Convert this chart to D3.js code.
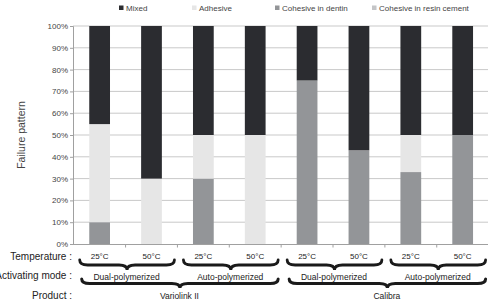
<!DOCTYPE html>
<html><head><meta charset="utf-8">
<script src="https://cdn.jsdelivr.net/npm/d3@7"></script>
<style>body{margin:0;background:#fff}svg{display:block;font-family:"Liberation Sans",Arial,sans-serif}</style>
</head><body><svg id="c" width="488" height="302"></svg>
<script>
const temperatures = ["25°C","50°C","25°C","50°C","25°C","50°C","25°C","50°C"];
const modes = ["Dual-polymerized","Auto-polymerized","Dual-polymerized","Auto-polymerized"];
const products = ["Variolink II","Calibra"];
const seriesNames = ["Cohesive in dentin","Cohesive in resin cement","Adhesive","Mixed"];
const dentin = [10,0,30,0,75,43,33,50];
const resin  = [0,0,0,0,0,0,0,0];
const adhesive = [45,30,20,50,0,0,17,0];
const mixed = [45,70,50,50,25,57,50,50];
const yTicks = [0,10,20,30,40,50,60,70,80,90,100];
const legendOrder = ["Mixed","Adhesive","Cohesive in dentin","Cohesive in resin cement"];
const colors = {"Mixed":"#2b2c30","Adhesive":"#e6e6e6","Cohesive in dentin":"#939598","Cohesive in resin cement":"#c4c5c7"};

const svg = d3.select("#c");
const x = d3.scaleBand().domain(d3.range(8)).range([73.7,488.6]).paddingInner(0.6).paddingOuter(0.3);
const y = d3.scaleLinear().domain([0,100]).range([244,26]);

// grid
svg.append("g").selectAll("line").data(yTicks.slice(1)).join("line")
  .attr("x1",73).attr("x2",488).attr("y1",d=>y(d)).attr("y2",d=>y(d))
  .attr("stroke","#c9c9c9").attr("stroke-width",1);

// bars
const table = d3.range(8).map(i=>({i,"Cohesive in dentin":dentin[i],"Cohesive in resin cement":resin[i],"Adhesive":adhesive[i],"Mixed":mixed[i]}));
const stack = d3.stack().keys(seriesNames)(table);
svg.append("g").selectAll("g").data(stack).join("g").attr("fill",d=>colors[d.key])
  .selectAll("rect").data(d=>d).join("rect")
  .attr("x",d=>x(d.data.i)).attr("width",x.bandwidth())
  .attr("y",d=>y(d[1])).attr("height",d=>y(d[0])-y(d[1]));

// y axis
const ya = svg.append("g").attr("transform","translate(73,0)")
  .call(d3.axisLeft(y).tickValues(yTicks).tickFormat(d=>d+"%").tickSize(3).tickPadding(2));
ya.selectAll("path,line").attr("stroke","#a0a0a0");
ya.selectAll("text").attr("fill","#444").style("font-size","8px").style("font-family","Liberation Sans, Arial");

// x axis line with ticks at band boundaries
const step = x.step();
const x0 = 73.7;
svg.append("line").attr("x1",73).attr("x2",488).attr("y1",244.5).attr("y2",244.5).attr("stroke","#a0a0a0");
svg.append("g").selectAll("line").data(d3.range(1,8)).join("line")
  .attr("x1",d=>x0+d*step).attr("x2",d=>x0+d*step).attr("y1",244.5).attr("y2",247.5).attr("stroke","#a0a0a0");

// y title
svg.append("text").attr("transform","translate(25,135) rotate(-90)").attr("text-anchor","middle")
  .attr("fill","#444").style("font-size","10.5px").text("Failure pattern");

// legend
const legX = [119,192,275,372];
const lg = svg.append("g").selectAll("g").data(legendOrder).join("g")
  .attr("transform",(d,i)=>`translate(${legX[i]},8)`);
lg.append("rect").attr("x",0).attr("y",-2.5).attr("width",4.5).attr("height",4.5).attr("fill",d=>colors[d]);
lg.append("text").attr("x",7).attr("y",3).attr("fill","#444").style("font-size","8px").text(d=>d);

// temperature labels
svg.append("g").selectAll("text").data(temperatures).join("text")
  .attr("x",(d,i)=>x(i)+x.bandwidth()/2).attr("y",259).attr("text-anchor","middle")
  .attr("fill","#222").style("font-size","8px").text(d=>d);

// row labels
const rowLab = [["Temperature :",260],["Activating mode :",279],["Product :",299]];
svg.append("g").selectAll("text").data(rowLab).join("text")
  .attr("x",72).attr("y",d=>d[1]).attr("text-anchor","end").attr("fill","#222")
  .style("font-size","10px").text(d=>d[0]);

function brace(xa, xb, yt, h){
  const m=(xa+xb)/2, q=Math.min(8,(xb-xa)/6), hh=h/2;
  return `M${xa},${yt} Q${xa},${yt+hh} ${xa+q},${yt+hh} L${m-q},${yt+hh} Q${m},${yt+hh} ${m},${yt+h} Q${m},${yt+hh} ${m+q},${yt+hh} L${xb-q},${yt+hh} Q${xb},${yt+hh} ${xb},${yt}`;
}
// mode braces
const bg = svg.append("g").attr("fill","none").attr("stroke","#1a1a1a").attr("stroke-linecap","round");
modes.forEach((mname,k)=>{
  const a=x0+2*k*step, b=a+2*step;
  bg.append("path").attr("d",brace(a+6,b-3,260,10)).attr("stroke-width",2.8);
  svg.append("text").attr("x",(a+b)/2+1).attr("y",280).attr("text-anchor","middle")
    .attr("fill","#222").style("font-size","8.5px").text(mname);
});
products.forEach((p,k)=>{
  const a=x0+4*k*step, b=a+4*step;
  bg.append("path").attr("d",brace(a+8,b-3,279,9)).attr("stroke-width",3);
  svg.append("text").attr("x",(a+b)/2+2).attr("y",299).attr("text-anchor","middle")
    .attr("fill","#222").style("font-size","8.5px").text(p);
});
</script></body></html>
